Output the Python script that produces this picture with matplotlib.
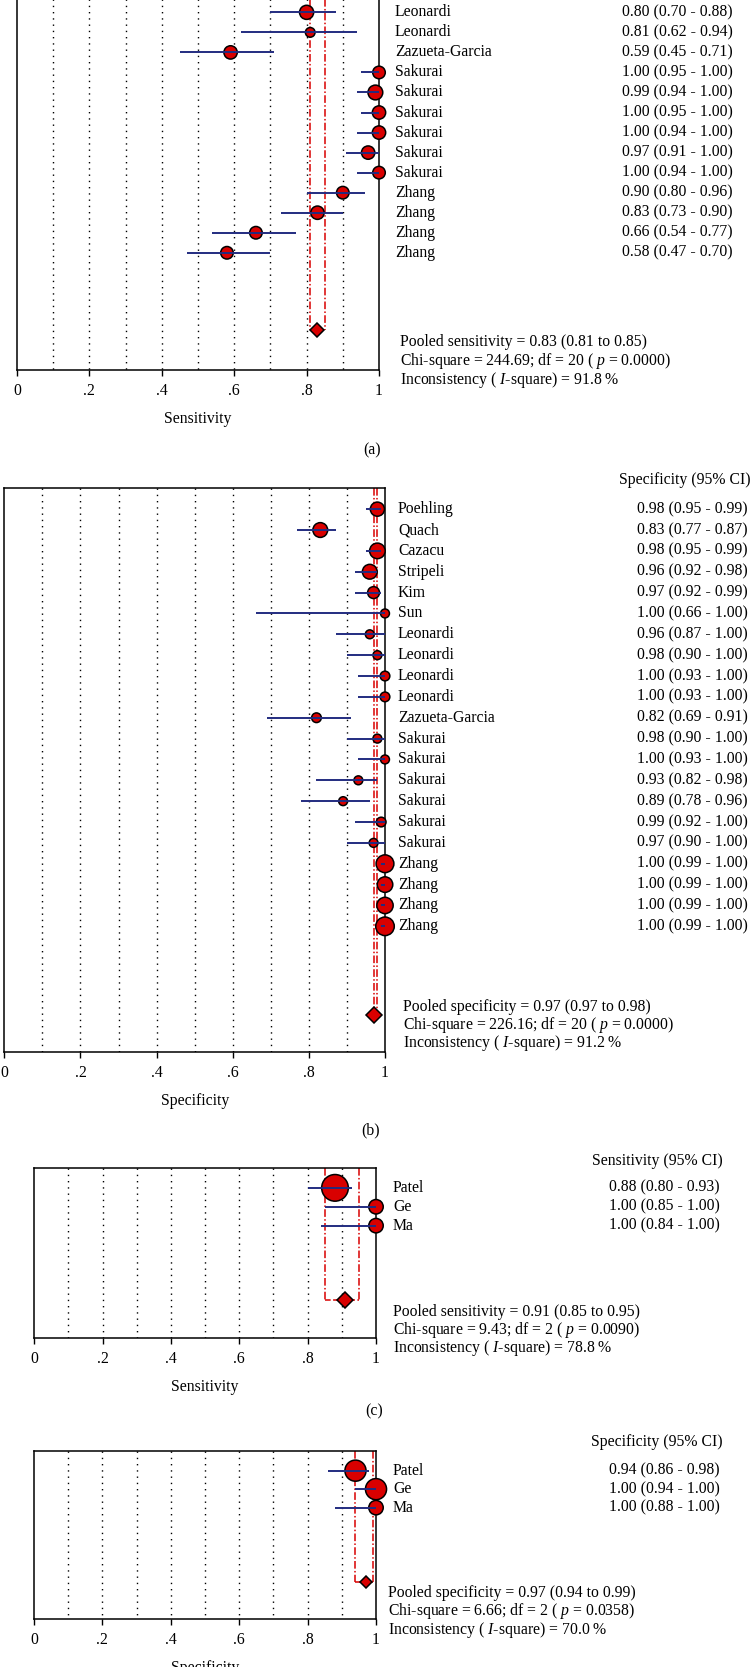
import numpy as np
import matplotlib.pyplot as plt
from matplotlib import transforms

plt.rcParams['font.family'] = ['Liberation Serif', 'DejaVu Serif']
plt.rcParams['mathtext.fontset'] = 'custom'
plt.rcParams['mathtext.rm'] = 'Liberation Serif'
plt.rcParams['mathtext.it'] = 'Liberation Serif:italic'
plt.rcParams['font.size'] = 11.3

# (a) sensitivity, 21 studies -- only the last 13 are inside the picture
a_names = ["Leonardi", "Leonardi", "Zazueta-Garcia", "Sakurai", "Sakurai", "Sakurai",
           "Sakurai", "Sakurai", "Sakurai", "Zhang", "Zhang", "Zhang", "Zhang"]
a_est = [0.80, 0.81, 0.59, 1.00, 0.99, 1.00, 1.00, 0.97, 1.00, 0.90, 0.83, 0.66, 0.58]
a_lo = [0.70, 0.62, 0.45, 0.95, 0.94, 0.95, 0.94, 0.91, 0.94, 0.80, 0.73, 0.54, 0.47]
a_hi = [0.88, 0.94, 0.71, 1.00, 1.00, 1.00, 1.00, 1.00, 1.00, 0.96, 0.90, 0.77, 0.70]
a_wt = [12.7, 8.7, 12, 11.3, 13.3, 12, 12, 12, 11.3, 11.3, 12, 11.3, 11.3]
a_pool = (0.83, 0.81, 0.85)
a_stats = ["Pooled sensitivity = 0.83 (0.81 to 0.85)",
           "Chi-square = 244.69; df = 20 ( $p$ = 0.0000)",
           "Inconsistency ( $I$-square) = 91.8 %"]

# (b) specificity
b_names = ["Poehling", "Quach", "Cazacu", "Stripeli", "Kim", "Sun", "Leonardi", "Leonardi",
           "Leonardi", "Leonardi", "Zazueta-Garcia", "Sakurai", "Sakurai", "Sakurai",
           "Sakurai", "Sakurai", "Sakurai", "Zhang", "Zhang", "Zhang", "Zhang"]
b_est = [0.98, 0.83, 0.98, 0.96, 0.97, 1.00, 0.96, 0.98, 1.00, 1.00, 0.82, 0.98, 1.00,
         0.93, 0.89, 0.99, 0.97, 1.00, 1.00, 1.00, 1.00]
b_lo = [0.95, 0.77, 0.95, 0.92, 0.92, 0.66, 0.87, 0.90, 0.93, 0.93, 0.69, 0.90, 0.93,
        0.82, 0.78, 0.92, 0.90, 0.99, 0.99, 0.99, 0.99]
b_hi = [0.99, 0.87, 0.99, 0.98, 0.99, 1.00, 1.00, 1.00, 1.00, 1.00, 0.91, 1.00, 1.00,
        0.98, 0.96, 1.00, 1.00, 1.00, 1.00, 1.00, 1.00]
b_wt = [12.7, 13.3, 14, 13.3, 10.7, 8, 8, 8, 8.7, 8.7, 8.7, 8, 8, 8, 8, 8.7, 8,
        16, 14, 14.7, 16.7]
b_pool = (0.97, 0.97, 0.98)
b_stats = ["Pooled specificity = 0.97 (0.97 to 0.98)",
           "Chi-square = 226.16; df = 20 ( $p$ = 0.0000)",
           "Inconsistency ( $I$-square) = 91.2 %"]

# (c) sensitivity, 3 studies
c_names = ["Patel", "Ge", "Ma"]
c_est = [0.88, 1.00, 1.00]
c_lo = [0.80, 0.85, 0.84]
c_hi = [0.93, 1.00, 1.00]
c_wt = [24, 13, 13]
c_pool = (0.91, 0.85, 0.95)
c_stats = ["Pooled sensitivity = 0.91 (0.85 to 0.95)",
           "Chi-square = 9.43; df = 2 ( $p$ = 0.0090)",
           "Inconsistency ( $I$-square) = 78.8 %"]

# (d) specificity, 3 studies
d_names = ["Patel", "Ge", "Ma"]
d_est = [0.94, 1.00, 1.00]
d_lo = [0.86, 0.94, 0.88]
d_hi = [0.98, 1.00, 1.00]
d_wt = [19, 19, 13]
d_pool = (0.97, 0.94, 0.99)
d_stats = ["Pooled specificity = 0.97 (0.94 to 0.99)",
           "Chi-square = 6.66; df = 2 ( $p$ = 0.0358)",
           "Inconsistency ( $I$-square) = 70.0 %"]

W, H = 750, 1667
fig = plt.figure(figsize=(W / 100, H / 100), dpi=100)

RED = '#d90000'
NAVY = '#222c80'
header_txt = {"Sensitivity": "Sensitivity (95% CI)", "Specificity": "Specificity (95% CI)"}


def forest(box, names, est, lo, hi, wt, pool, stats, row0, ylim, ydia, dsize,
           name_x, val_x, stat_xy, xlabel, header=None):
    l, t, r, b = box
    ax = fig.add_axes([l / W, 1 - b / H, (r - l) / W, (b - t) / H])
    ax.set_xlim(0, 1)
    ax.set_ylim(*ylim)
    y = row0 + np.arange(len(names))

    ax.vlines(np.arange(1, 10) / 10, ylim[1], ylim[0], colors='k',
              linestyles=(0, (1, 3.5)), linewidth=1, zorder=1)

    # pooled CI box + diamond
    ax.vlines([pool[1], pool[2]], ylim[1], ydia, colors=RED,
              linestyles=(0, (5, 1.5, 1, 1.5)), linewidth=1.1, zorder=2)
    ax.hlines(ydia, pool[1], pool[2], colors=RED, linestyles='--', linewidth=1.1, zorder=2)
    ax.plot(pool[0], ydia, marker='D', ms=dsize, mfc=RED, mec='k', mew=1.1, zorder=5)

    ax.scatter(est, y, s=(np.array(wt) * 0.8) ** 2, color=RED, edgecolors='k',
               linewidths=1.1, zorder=3, clip_on=False)
    ax.hlines(y, lo, hi, colors=NAVY, linewidth=1.4, zorder=4)

    ax.set_yticks([])
    ax.set_xticks([0, .2, .4, .6, .8, 1])
    ax.set_xticklabels(['0', '.2', '.4', '.6', '.8', '1'])
    ax.tick_params(axis='x', direction='out', length=4, width=1, pad=5)
    for s in ax.spines.values():
        s.set_linewidth(1.1)
    ax.set_xlabel(xlabel, labelpad=9)

    tr = transforms.blended_transform_factory(fig.transFigure, ax.transData)
    for yi, n, e, a, h in zip(y, names, est, lo, hi):
        ax.text(name_x / W, yi, n, transform=tr, ha='left', va='center')
        ax.text(val_x / W, yi, f"{e:.2f} ({a:.2f} - {h:.2f})", transform=tr,
                ha='right', va='center')
    if header:
        fig.text(val_x / W + 0.003, 1 - header / H, header_txt[xlabel], ha='right', va='center')
    sx, sy, dy = stat_xy
    for i, s in enumerate(stats):
        fig.text(sx / W, 1 - (sy + i * dy) / H, s, ha='left', va='center')
    return ax


forest((17, -168, 379, 370), a_names, a_est, a_lo, a_hi, a_wt, a_pool, a_stats,
       8, (25.85, -1.0), 23.87, 7.6, 395, 733, (400, 341.7, 19.2), "Sensitivity")
forest((4.3, 488.3, 385, 1052.3), b_names, b_est, b_lo, b_hi, b_wt, b_pool, b_stats,
       0, (26.04, -1.0), 24.25, 8.0, 398, 748, (402.7, 1006.7, 18.3), "Specificity",
       header=480)
forest((34.3, 1168, 376, 1338.3), c_names, c_est, c_lo, c_hi, c_wt, c_pool, c_stats,
       0, (7.96, -1.05), 5.96, 8.2, 393, 720, (393, 1312, 18.2), "Sensitivity",
       header=1161)
forest((34, 1450.7, 376, 1619.3), d_names, d_est, d_lo, d_hi, d_wt, d_pool, d_stats,
       0, (8.04, -1.08), 6.04, 5.8, 393, 720, (388.5, 1592.7, 18.7), "Specificity",
       header=1442)

fig.text(372 / W, 1 - 450 / H, "(a)", ha='center', va='center')
fig.text(371 / W, 1 - 1130 / H, "(b)", ha='center', va='center')
fig.text(374 / W, 1 - 1411.7 / H, "(c)", ha='center', va='center')

plt.savefig("out.png", dpi=100)
plt.close()
